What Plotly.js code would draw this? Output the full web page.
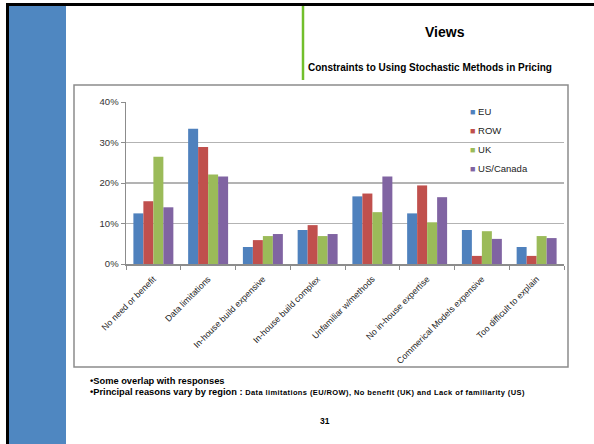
<!DOCTYPE html>
<html>
<head>
<meta charset="utf-8">
<script src="https://cdn.plot.ly/plotly-3.0.1.min.js"></script>
<style>html,body{margin:0;padding:0;background:#fff;}#chart{width:594px;height:444px;}</style>
</head>
<body>
<div id="chart"></div>
<script>
const categories = ["No need or benefit","Data limitations","In-house build expensive","In-house build complex","Unfamiliar w/methods","No in-house expertise","Commerical Models expensive","Too difficult to explain"];
const seriesNames = ["EU","ROW","UK","US/Canada"];
const euValues  = [0.125,0.334,0.042,0.084,0.167,0.125,0.084,0.042];
const rowValues = [0.155,0.289,0.059,0.096,0.174,0.194,0.020,0.020];
const ukValues  = [0.265,0.221,0.069,0.069,0.128,0.103,0.081,0.069];
const usValues  = [0.140,0.216,0.074,0.074,0.216,0.165,0.062,0.064];
const yTickVals = [0,0.1,0.2,0.3,0.4];
const yTickText = ["0%","10%","20%","30%","40%"];
const colors = ["#4F81BD","#C0504D","#9BBB59","#8064A2"];

const W=594,H=444;
const px = x => x/W;
const py = y => 1 - y/H;

const allValues=[euValues,rowValues,ukValues,usValues];
const traces = allValues.map((v,i)=>({
  type:'bar', name:seriesNames[i], x:categories, y:v,
  marker:{color:colors[i], line:{width:0}},
  showlegend:false,
  hoverinfo:'skip'
}));
// legend entries: small square glyph in series colour, tight to the text
seriesNames.forEach((n,i)=>{
  traces.push({
    type:'scatter', mode:'markers', x:[null], y:[null],
    name:'<span style="color:'+colors[i]+';font-size:9px">■</span> '+n,
    marker:{color:'rgba(0,0,0,0)', size:1},
    showlegend:true, hoverinfo:'skip'
  });
});

const layout = {
  width:W, height:H,
  margin:{l:0,r:0,t:0,b:0},
  paper_bgcolor:'#fff', plot_bgcolor:'rgba(0,0,0,0)',
  showlegend:true,
  barmode:'group', bargap:0.27, bargroupgap:0,
  font:{family:'Liberation Sans, Arial, sans-serif', color:'#222'},
  xaxis:{
    domain:[px(126),px(564)],
    anchor:'y',
    tickangle:-45,
    tickfont:{size:8.8, color:'#222', family:'Liberation Sans, Arial'},
    ticklabelstandoff:5,
    showline:true, linecolor:'#8c8c8c', linewidth:1.5,
    ticks:'outside', tickson:'boundaries', ticklen:4, tickcolor:'#8c8c8c',
    showgrid:false
  },
  yaxis:{
    domain:[py(264),py(102)],
    range:[0,0.4],
    tickvals:yTickVals, ticktext:yTickText,
    tickfont:{size:9.5, color:'#333'},
    showline:true, linecolor:'#8c8c8c', linewidth:1.5,
    ticks:'outside', ticklen:4, tickcolor:'#8c8c8c',
    showgrid:true, gridcolor:'#b3b3b3', gridwidth:1.5,
    zeroline:false
  },
  legend:{
    x:px(430), y:py(97), xanchor:'left', yanchor:'top',
    bgcolor:'rgba(0,0,0,0)', borderwidth:0,
    font:{size:9.5, color:'#222'},
    tracegroupgap:0, itemwidth:30
  },
  shapes:[
    {type:'rect', xref:'paper', yref:'paper', x0:px(9), x1:px(66), y0:py(444), y1:py(6), fillcolor:'#4F87C1', line:{width:0}, layer:'below'},
    {type:'line', xref:'paper', yref:'paper', x0:px(6), x1:px(594), y0:py(4.5), y1:py(4.5), line:{color:'#000', width:3}},
    {type:'line', xref:'paper', yref:'paper', x0:px(7.5), x1:px(7.5), y0:py(3), y1:py(444), line:{color:'#000', width:3}},
    {type:'line', xref:'paper', yref:'paper', x0:px(303), x1:px(303), y0:py(6), y1:py(80), line:{color:'#72BF2C', width:2.5}},
    {type:'rect', xref:'paper', yref:'paper', x0:px(74), x1:px(568), y0:py(367), y1:py(85), line:{color:'#8c8c8c', width:1.5}, fillcolor:'rgba(0,0,0,0)', layer:'below'},
    {type:'rect', xref:'paper', yref:'paper', x0:px(458), x1:px(540), y0:py(178), y1:py(95), line:{width:0}, fillcolor:'#fff', layer:'between'}
  ],
  annotations:[
    {xref:'paper', yref:'paper', x:px(445), y:py(32), text:'<b>Views</b>', showarrow:false, font:{size:14, color:'#000', family:'Liberation Sans, Arial'}, xanchor:'center', yanchor:'middle'},
    {xref:'paper', yref:'paper', x:px(306), y:py(67), text:'<b>Constraints to Using Stochastic Methods in Pricing</b>', showarrow:false, font:{size:10, color:'#000', family:'Liberation Sans, Arial'}, xanchor:'left', yanchor:'middle'},
    {xref:'paper', yref:'paper', x:px(88), y:py(381), text:'<b>•Some overlap with responses</b>', showarrow:false, font:{size:9.3, color:'#000', family:'Liberation Sans, Arial'}, xanchor:'left', yanchor:'middle'},
    {xref:'paper', yref:'paper', x:px(88), y:py(392), text:'<b>•Principal reasons vary by region : <span style="font-size:7.5px;letter-spacing:0.4px">Data limitations (EU/ROW), No benefit (UK) and Lack of familiarity (US)</span></b>', showarrow:false, font:{size:9.3, color:'#000', family:'Liberation Sans, Arial'}, xanchor:'left', yanchor:'middle'},
    {xref:'paper', yref:'paper', x:px(325), y:py(421), text:'<b>31</b>', showarrow:false, font:{size:8.5, color:'#000', family:'Liberation Sans, Arial'}, xanchor:'center', yanchor:'middle'}
  ]
};

Plotly.newPlot('chart', traces, layout, {displayModeBar:false, staticPlot:true});
</script>
</body>
</html>
